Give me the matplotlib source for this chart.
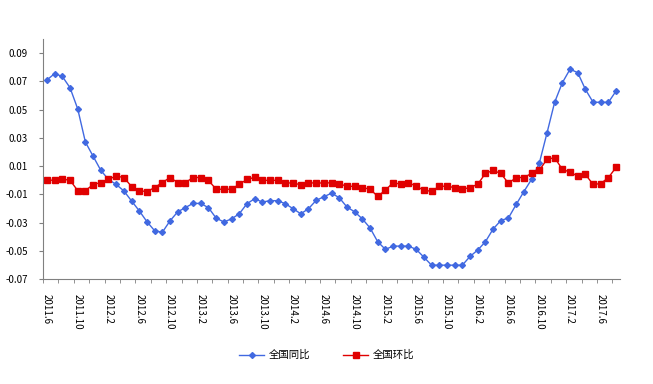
import numpy as np
import matplotlib
matplotlib.use("Agg")
import matplotlib.pyplot as plt
from matplotlib.ticker import FixedLocator

plt.rcParams['font.family'] = ['Noto Sans CJK SC', 'DejaVu Sans']

# monthly data, 2011.6 .. 2017.8
yoy = [0.071, 0.0755, 0.0735, 0.0655, 0.0505, 0.027, 0.017, 0.007, 0.0005, -0.003,
       -0.0076, -0.0147, -0.0217, -0.0294, -0.0358, -0.0369, -0.0288, -0.0224, -0.0194, -0.0164,
       -0.0165, -0.0195, -0.0269, -0.0296, -0.0274, -0.0238, -0.0167, -0.0131, -0.0155, -0.0145,
       -0.0145, -0.0167, -0.0202, -0.0238, -0.0202, -0.0143, -0.0117, -0.0092, -0.0124, -0.019,
       -0.0224, -0.0274, -0.0338, -0.0436, -0.049, -0.0467, -0.0467, -0.0467, -0.049, -0.0545,
       -0.0602, -0.0602, -0.0602, -0.0602, -0.0602, -0.054, -0.0495, -0.0436, -0.0346, -0.0286,
       -0.0267, -0.0172, -0.0081, 0.0006, 0.0119, 0.0333, 0.0552, 0.069, 0.0786, 0.0762,
       0.0643, 0.0552, 0.0552, 0.0552, 0.0633]

mom = [0.0, 0.0, 0.0007, 0.0, -0.0074, -0.0074, -0.0031, -0.0017, 0.0007, 0.0029,
       0.0019, -0.0045, -0.0074, -0.0081, -0.0052, -0.0017, 0.0019, -0.0017, -0.0017, 0.0019,
       0.0019, -0.0002, -0.0064, -0.0064, -0.0064, -0.0029, 0.0005, 0.002, -0.0001, -0.0001,
       -0.0001, -0.0017, -0.0022, -0.0031, -0.0022, -0.0017, -0.0022, -0.0017, -0.0024, -0.0044,
       -0.0043, -0.0052, -0.0064, -0.0114, -0.0071, -0.0017, -0.0029, -0.0017, -0.0043, -0.0071,
       -0.0079, -0.0043, -0.0043, -0.0052, -0.0064, -0.0052, -0.0029, 0.0048, 0.0069, 0.0048,
       -0.0022, 0.0019, 0.0019, 0.0048, 0.0069, 0.0148, 0.0159, 0.0077, 0.0057, 0.0029,
       0.0041, -0.003, -0.0024, 0.0019, 0.0092]

xlabels = ['2011.6', '2011.10', '2012.2', '2012.6', '2012.10', '2013.2', '2013.6',
           '2013.10', '2014.2', '2014.6', '2014.10', '2015.2', '2015.6', '2015.10',
           '2016.2', '2016.6', '2016.10', '2017.2', '2017.6']
yticks = [-0.07, -0.05, -0.03, -0.01, 0.01, 0.03, 0.05, 0.07, 0.09]

x = np.arange(len(yoy))

fig = plt.figure(figsize=(6.53, 3.84), dpi=100)
ax = fig.add_axes([0.066, 0.2734, 0.8835, 0.625])

ax.plot(x, yoy, color='#4169E1', lw=1, marker='D', ms=3.0, label='全国同比')
ax.plot(x, mom, color='#E00000', lw=1, marker='s', ms=4.2, label='全国环比')

ax.set_xlim(-0.5, len(yoy) - 0.5)
ax.set_ylim(-0.07, 0.10)

ax.set_yticks(yticks)
ax.set_yticklabels(['%.2f' % v for v in yticks], fontsize=7)

ax.set_xticks(np.arange(0, len(yoy), 4))
ax.set_xticklabels(xlabels, rotation=270, fontsize=7, va='top', ha='center')
ax.xaxis.set_minor_locator(FixedLocator(np.arange(-0.5, len(yoy), 2)))
ax.tick_params(axis='x', which='major', length=0, pad=11)
ax.tick_params(axis='x', which='minor', length=3, color='#808080')
ax.tick_params(axis='y', length=3, color='#808080', pad=8)

for s in ['top', 'right']:
    ax.spines[s].set_visible(False)
for s in ['left', 'bottom']:
    ax.spines[s].set_color('#808080')

fig.legend(loc='center', bbox_to_anchor=(0.5, 0.075), ncol=2, frameon=False,
           fontsize=7.5, handlelength=2.4, handletextpad=0.4, columnspacing=3.2)

fig.savefig('out.png', dpi=100)
